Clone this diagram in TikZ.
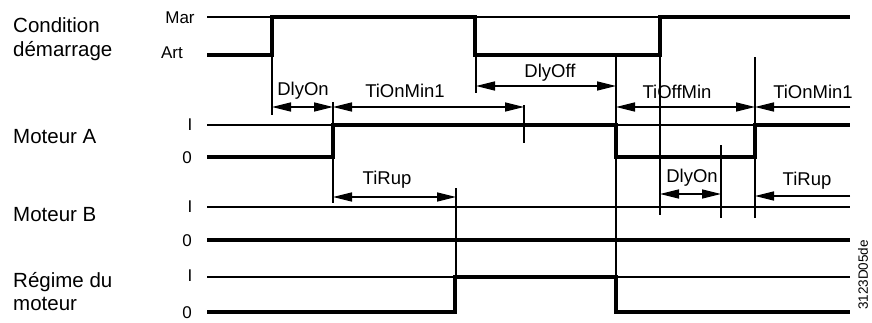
\documentclass[tikz,border=0pt]{standalone}
\usepackage{fontspec}
\setmainfont{Liberation Sans}
\usetikzlibrary{arrows.meta}
\begin{document}
\begin{tikzpicture}[x=1pt,y=-1pt,
  refline/.style={line width=1.4pt},
  sigline/.style={line width=4pt,line join=miter},
  markline/.style={line width=1.4pt},
  dimline/.style={line width=1.4pt,{Triangle[length=19pt,width=9pt]}-{Triangle[length=19pt,width=9pt]}},
  dimright/.style={line width=1.4pt,-{Triangle[length=19pt,width=9pt]}},
  side/.style={font=\fontsize{20.5}{24}\selectfont,anchor=base west,inner sep=0pt},
  lev/.style={font=\fontsize{17}{20}\selectfont,inner sep=0pt},
  tl/.style={font=\fontsize{18.5}{22}\selectfont,inner sep=0pt}]
\useasboundingbox (0,0) rectangle (872,322);
% left labels
\node[side] (c1) at (13,32) {Condition};
\node[side] (c2) at (13,56) {démarrage};
\node[side] (ma) at (13,143) {Moteur A};
\node[side] (mb) at (13,221) {Moteur B};
\node[side] (r1) at (13,287) {Régime du};
\node[side] (r2) at (13,310) {moteur};
% level labels
\node[lev] (lmar) at (180,18) {Mar};
\node[lev] (lart) at (172,53) {Art};
\node[lev] (la1) at (190,125) {I};
\node[lev] (la0) at (187,158) {0};
\node[lev] (lb1) at (190,207) {I};
\node[lev] (lb0) at (187,241) {0};
\node[lev] (lr1) at (190,276) {I};
\node[lev] (lr0) at (187,313) {0};
% thin reference lines
\draw[refline] (207,17) -- (850,17);
\draw[refline] (207,125) -- (850,125);
\draw[refline] (207,207) -- (850,207);
\draw[refline] (207,277) -- (850,277);
% thick signals
\draw[sigline] (207,55) -- (272,55) -- (272,17) -- (475,17) -- (475,55) -- (660,55) -- (660,17) -- (850,17);
\draw[sigline] (207,157) -- (333,157) -- (333,125) -- (616,125) -- (616,157) -- (755,157) -- (755,125) -- (850,125);
\draw[sigline] (207,240) -- (850,240);
\draw[sigline] (207,312) -- (455,312) -- (455,277) -- (616,277) -- (616,312) -- (850,312);
% marker lines
\draw[markline] (272,55) -- (272,115);
\draw[markline] (333,102) -- (333,203);
\draw[markline] (524,105) -- (524,143);
\draw[markline] (476,55) -- (476,93);
\draw[markline] (616,57) -- (616,312);
\draw[markline] (660,55) -- (660,215);
\draw[markline] (755,57) -- (755,218);
\draw[markline] (721,145) -- (721,218);
\draw[markline] (456,188) -- (456,277);
% dimension arrows
\draw[dimline] (272,107) -- (333,107);
\draw[dimline] (333,107) -- (524,107);
\draw[dimline] (476,86) -- (616,86);
\draw[dimline] (616,107) -- (755,107);
\draw[dimright] (850,107) -- (755,107);
\draw[dimline] (333,197) -- (456,197);
\draw[dimline] (660,194) -- (721,194);
\draw[dimright] (850,196) -- (755,196);
% labels
\node[tl] (t1) at (303,91) {DlyOn};
\node[tl] (t2) at (405,91) {TiOnMin1};
\node[tl] (t3) at (550,73) {DlyOff};
\node[tl] (t4) at (677,92) {TiOffMin};
\node[tl] (t5) at (813,92) {TiOnMin1};
\node[tl] (t6) at (387,180) {TiRup};
\node[tl] (t7) at (692,178) {DlyOn};
\node[tl] (t8) at (807,181) {TiRup};
\node[font=\fontsize{13.5}{16}\selectfont,rotate=90,inner sep=0pt] (code) at (863,275) {3123D05de};
\end{tikzpicture}
\end{document}
